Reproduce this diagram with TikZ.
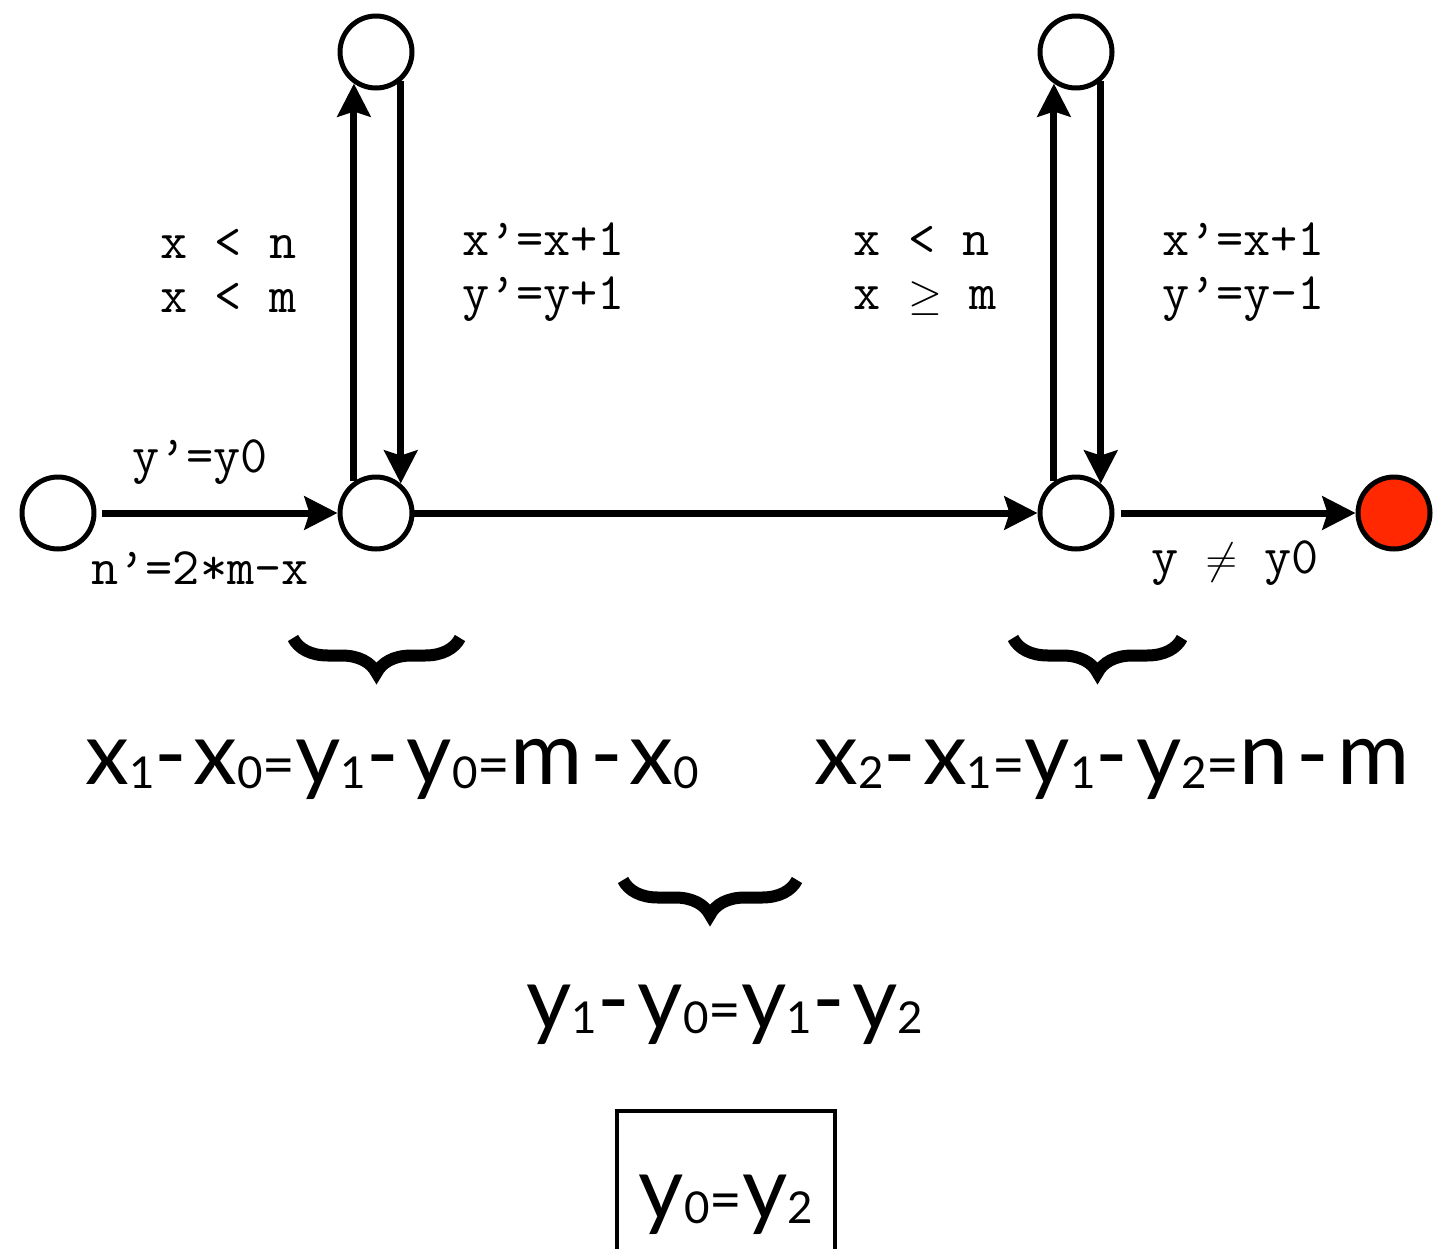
\documentclass[tikz,border=0pt]{standalone}
\usepackage{fontspec}
\setmainfont{Lato}[LetterSpace=9]
\usetikzlibrary{arrows.meta,positioning,decorations.pathreplacing}
\definecolor{errred}{RGB}{255,40,0}
\newcommand{\lowdig}[1]{\raisebox{-0.08cm}{\fontsize{25}{25}\selectfont #1}}
\newcommand{\eqs}{{\fontsize{32}{32}\selectfont =}}

\begin{document}
\begin{tikzpicture}[x=0.02cm,y=-0.02cm,
  st/.style={circle,draw,line width=0.1cm,fill=white,
             minimum size=1.44cm,inner sep=0pt},
  tr/.style={line width=0.14cm,
             -{Stealth[length=0.66cm,width=0.66cm,inset=0.1cm]}},
  lbl/.style={font=\ttfamily\fontsize{30}{30.7}\selectfont,
              inner sep=0pt,align=left},
  eq/.style={font=\fontsize{50}{56}\selectfont,inner sep=0pt},
  brc/.style={decorate,decoration={brace,mirror,amplitude=0.7cm},
              line width=0.24cm}]
  \clip (0,0) rectangle (1446,1248);
  % states
  \node[st] (s0)   at (58,513)   {};
  \node[st] (s1)   at (376,513)  {};
  \node[st] (top1) at (376,52)   {};
  \node[st] (s2)   at (1076,513) {};
  \node[st] (top2) at (1076,52)  {};
  \node[st,fill=errred] (err) at (1394,513) {};
  % transitions
  \draw[tr,shorten <=0.12cm] (s0)--(s1)
    node[lbl,pos=0.43,yshift=1.02cm] (init) {y’=y0}
    node[lbl,pos=0.43,yshift=-1.1cm] (upd) {n’=2*m-x};
  \draw[tr] (s1.125)--(top1.235)
    node[lbl,pos=0.53,left=1.08cm] (g1) {x < n\\x < m};
  \draw[tr] (top1.310)--(s1.50)
    node[lbl,pos=0.475,right=1.16cm] (a1) {x’=x+1\\y’=y+1};
  \draw[tr] (s1)--(s2);
  \draw[tr] (s2.125)--(top2.235)
    node[lbl,pos=0.53,left=1.08cm] (g2) {x < n\\x $\geq$ m};
  \draw[tr] (top2.310)--(s2.50)
    node[lbl,pos=0.475,right=1.16cm] (a2) {x’=x+1\\y’=y-1};
  \draw[tr,shorten <=0.12cm] (s2)--(err)
    node[lbl,midway,yshift=-1.0cm] (bad) {y $\neq$ y0};
  % reasoning
  \draw[brc] (293,638)--(460,638);
  \draw[brc] (1013,638)--(1182,638);
  \draw[brc] (623,880)--(797,880);
  \node[eq,anchor=base] (f1) at (392,784)
    {x\lowdig{1}-x\lowdig{0}\eqs y\lowdig{1}-y\lowdig{0}\eqs m-x\lowdig{0}};
  \node[eq,anchor=base] (f2) at (1112,784)
    {x\lowdig{2}-x\lowdig{1}\eqs y\lowdig{1}-y\lowdig{2}\eqs n-m};
  \node[eq,anchor=base] (f3) at (725,1029)
    {y\lowdig{1}-y\lowdig{0}\eqs y\lowdig{1}-y\lowdig{2}};
  \node[eq,draw,line width=0.08cm,minimum width=4.36cm,
        minimum height=3.76cm] (res) at (726,1205)
    {y\lowdig{0}\eqs y\lowdig{2}};
\end{tikzpicture}
\end{document}
